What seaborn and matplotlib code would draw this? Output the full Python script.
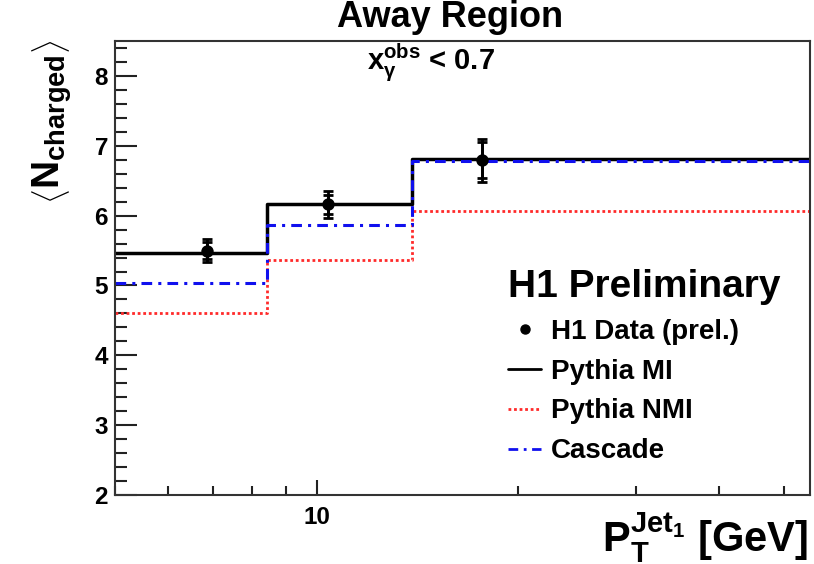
import numpy as np
import pandas as pd
import matplotlib
matplotlib.use("Agg")
import matplotlib.pyplot as plt
from matplotlib.ticker import FixedLocator, LogLocator, NullFormatter, MultipleLocator, FixedFormatter
from matplotlib.lines import Line2D
import seaborn as sns

# ---- data ----
bin_edges = [5.0, 8.42, 13.9, 54.6]
pythia_mi = [5.47, 6.16, 6.81]
pythia_nmi = [4.61, 5.37, 6.07]
cascade = [5.03, 5.86, 6.78]
data_x = [6.85, 10.4, 17.7]
data_y = [5.50, 6.16, 6.79]
data_err_tot = [0.16, 0.19, 0.31]
data_err_stat = [0.12, 0.14, 0.26]

sns.set_theme(style="white")
plt.rcParams['font.family'] = ['Liberation Sans', 'DejaVu Sans']
plt.rcParams['font.weight'] = 'bold'
plt.rcParams['text.color'] = 'black'
plt.rcParams['axes.labelcolor'] = 'black'
plt.rcParams['xtick.color'] = 'black'
plt.rcParams['ytick.color'] = 'black'
plt.rcParams['mathtext.fontset'] = 'custom'
plt.rcParams['mathtext.rm'] = 'Liberation Sans:bold'
plt.rcParams['mathtext.bf'] = 'Liberation Sans:bold'
plt.rcParams['mathtext.it'] = 'Liberation Sans:bold'
plt.rcParams['mathtext.sf'] = 'Liberation Sans:bold'

fig = plt.figure(figsize=(8.14, 5.64), dpi=100)
ax = fig.add_axes([0.1413, 0.1218, 0.995 - 0.1413, 0.9278 - 0.1218])

def step_df(vals):
    return pd.DataFrame({"x": bin_edges, "y": list(vals) + [vals[-1]]})

sns.lineplot(data=step_df(pythia_nmi), x="x", y="y", ax=ax, drawstyle="steps-post",
             color="#ff2a2a", lw=2.0, linestyle=(0, (1, 1)), estimator=None, sort=False)
sns.lineplot(data=step_df(pythia_mi), x="x", y="y", ax=ax, drawstyle="steps-post",
             color="black", lw=2.5, estimator=None, sort=False)
sns.lineplot(data=step_df(cascade), x="x", y="y", ax=ax, drawstyle="steps-post",
             color="#1010ee", lw=2.2, linestyle=(0, (3.5, 2, 1, 2)), estimator=None, sort=False)

ax.errorbar(data_x, data_y, yerr=data_err_tot, fmt="none", ecolor="black",
            elinewidth=2, capsize=3.5, capthick=2, zorder=5)
ax.errorbar(data_x, data_y, yerr=data_err_stat, fmt="none", ecolor="black",
            elinewidth=2, capsize=3.5, capthick=2, zorder=5)
sns.scatterplot(x=data_x, y=data_y, ax=ax, color="black", s=80, edgecolor="black",
                linewidth=0, zorder=6)

ax.set_xscale("log")
ax.set_xlim(bin_edges[0], bin_edges[-1])
ax.set_ylim(2, 8.5)
ax.xaxis.set_major_locator(FixedLocator([10]))
ax.xaxis.set_major_formatter(FixedFormatter(["10"]))
ax.xaxis.set_minor_locator(LogLocator(base=10, subs=[2, 3, 4, 5, 6, 7, 8, 9]))
ax.xaxis.set_minor_formatter(NullFormatter())
ax.yaxis.set_major_locator(MultipleLocator(1))
ax.yaxis.set_minor_locator(MultipleLocator(0.2))

ax.tick_params(axis="y", which="major", direction="in", length=16, width=1.5, labelsize=17.5,
               pad=5, left=True, right=False, color="#222222")
ax.tick_params(axis="y", which="minor", direction="in", length=8.5, width=1.5,
               left=True, right=False, color="#222222")
ax.tick_params(axis="x", which="major", direction="in", length=11, width=1.5, labelsize=17.5,
               pad=8, bottom=True, top=False, color="#222222")
ax.tick_params(axis="x", which="minor", direction="in", length=6.5, width=1.5,
               bottom=True, top=False, color="#222222")
for lab in ax.get_xticklabels() + ax.get_yticklabels():
    lab.set_fontweight("bold")

for sp in ax.spines.values():
    sp.set_color("#333333")
    sp.set_linewidth(1.5)
ax.set_xlabel("")
ax.set_ylabel("")

# titles and labels
fig.text(0.553, 0.953, "Away Region", ha="center", va="baseline", fontsize=26, fontweight="bold")
fig.text(0.529, 0.876, r"$\mathbf{x}_{\gamma}^{\mathbf{obs}}$ < 0.7", ha="center", va="baseline",
         fontsize=21, fontweight="bold")
fig.text(0.064, 0.784, r"$\left\langle\mathbf{N}_{\mathbf{charged}}\right\rangle$",
         rotation=90, ha="center", va="center", fontsize=28, fontweight="bold")
fig.text(0.993, 0.022, r"$\mathbf{P}_{\mathbf{T}}^{\mathbf{Jet}_{\mathbf{1}}}$ [GeV]",
         ha="right", va="baseline", fontsize=30, fontweight="bold")

# legend
handles = [
    Line2D([], [], marker="o", color="black", linestyle="none", markersize=6.5),
    Line2D([], [], color="black", lw=2.0),
    Line2D([], [], color="#ff2a2a", lw=2.0, linestyle=(0, (1, 1))),
    Line2D([], [], color="#1010ee", lw=2.0, linestyle=(0, (3.5, 2, 1, 2))),
]
labels = ["H1 Data (prel.)", "Pythia MI", "Pythia NMI", "Cascade"]
leg = ax.legend(handles, labels, title="H1 Preliminary", loc="upper left",
                bbox_to_anchor=(0.6, 0.558), bbox_transform=fig.transFigure,
                frameon=False, fontsize=20, handlelength=1.2, handletextpad=0.35,
                labelspacing=0.5, borderpad=0.2,
                title_fontproperties={"size": 28, "weight": "bold"})
leg._legend_box.align = "left"
for t in leg.get_texts():
    t.set_fontweight("bold")

fig.savefig("out.png", dpi=100)
